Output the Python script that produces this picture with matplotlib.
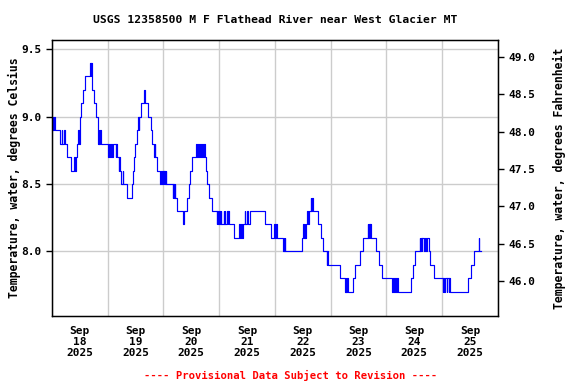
import matplotlib
matplotlib.use("Agg")
import matplotlib.pyplot as plt
import matplotlib.dates as mdates
import pandas as pd

# readings: (hour of day, deg C), value holds until next reading
sep18 = [(0.0, 9.0), (0.25, 8.9), (0.5, 9.0), (0.75, 8.9), (1.0, 9.0), (1.25, 8.9),
         (3.75, 8.8), (4.25, 8.9), (4.5, 8.8), (5.25, 8.9), (5.5, 8.8),
         (6.5, 8.7), (8.25, 8.6), (9.75, 8.7), (10.0, 8.6), (10.5, 8.7), (11.0, 8.8),
         (11.5, 8.9), (11.75, 8.8), (12.0, 8.9), (12.25, 9.0), (12.75, 9.1), (13.5, 9.2),
         (14.25, 9.3), (16.5, 9.4), (16.75, 9.3), (17.0, 9.4), (17.5, 9.2), (18.25, 9.1),
         (19.0, 9.0), (19.75, 8.9), (20.0, 8.8), (20.25, 8.9), (20.5, 8.8), (20.75, 8.9),
         (21.0, 8.8)]
sep19 = [(0.25, 8.7), (0.5, 8.8), (1.25, 8.7), (1.5, 8.8), (2.0, 8.7), (2.25, 8.8),
         (3.5, 8.7), (3.75, 8.8), (4.0, 8.7), (4.75, 8.6), (5.0, 8.7), (5.25, 8.6),
         (6.0, 8.5), (6.5, 8.6), (6.75, 8.5), (8.5, 8.4), (10.5, 8.5), (11.0, 8.6),
         (11.5, 8.7), (12.0, 8.8), (12.5, 8.9), (13.25, 9.0), (13.5, 8.9), (13.75, 9.0),
         (14.5, 9.1), (15.5, 9.2), (16.25, 9.1), (17.5, 9.0), (18.5, 8.9), (19.25, 8.8),
         (20.0, 8.7), (20.25, 8.8), (20.5, 8.7), (21.25, 8.6), (22.5, 8.5), (23.0, 8.6),
         (23.25, 8.5)]
sep20 = [(0.0, 8.6), (0.25, 8.5), (0.5, 8.6), (0.75, 8.5), (1.0, 8.6), (1.25, 8.5),
         (4.0, 8.4), (4.25, 8.5), (4.5, 8.4), (5.0, 8.5), (5.25, 8.4), (6.0, 8.3),
         (8.5, 8.2), (8.75, 8.3), (10.25, 8.4), (11.0, 8.5), (11.5, 8.6), (12.5, 8.7),
         (14.25, 8.8), (14.5, 8.7), (14.75, 8.8), (15.5, 8.7), (15.75, 8.8), (16.25, 8.7),
         (16.5, 8.8), (17.25, 8.7), (17.5, 8.8), (18.0, 8.7), (18.5, 8.6), (19.0, 8.5),
         (19.75, 8.4), (20.75, 8.3), (23.0, 8.2), (23.25, 8.3), (23.5, 8.2), (23.75, 8.3)]
sep21 = [(0.5, 8.2), (0.75, 8.3), (1.0, 8.2), (2.0, 8.3), (2.25, 8.2), (2.5, 8.3),
         (2.75, 8.2), (3.5, 8.3), (3.75, 8.2), (4.0, 8.3), (4.25, 8.2), (6.5, 8.1),
         (8.75, 8.2), (9.0, 8.1), (9.5, 8.2), (9.75, 8.1), (10.25, 8.2), (11.0, 8.3),
         (11.25, 8.2), (12.0, 8.3), (12.25, 8.2), (13.5, 8.3), (19.75, 8.2), (22.5, 8.1),
         (23.75, 8.2), (24.0, 8.1)]
sep22 = [(0.5, 8.2), (0.75, 8.1), (3.5, 8.0), (3.75, 8.1), (4.0, 8.0), (4.25, 8.1),
         (4.5, 8.0), (11.5, 8.1), (12.25, 8.2), (12.5, 8.1), (12.75, 8.2), (13.0, 8.1),
         (13.25, 8.2), (14.0, 8.3), (14.25, 8.2), (14.5, 8.3), (15.5, 8.4), (15.75, 8.3),
         (16.0, 8.4), (16.25, 8.3), (18.75, 8.2), (19.75, 8.1), (20.75, 8.0), (22.25, 7.9),
         (22.5, 8.0), (22.75, 7.9)]
sep23 = [(4.0, 7.8), (6.25, 7.7), (6.5, 7.8), (6.75, 7.7), (7.0, 7.8), (7.25, 7.7),
         (9.5, 7.8), (10.5, 7.9), (12.5, 8.0), (13.75, 8.1), (16.0, 8.2), (16.25, 8.1),
         (16.5, 8.2), (16.75, 8.1), (17.0, 8.2), (17.25, 8.1), (19.5, 8.0), (21.0, 7.9),
         (22.25, 7.8)]
sep24 = [(2.5, 7.7), (2.75, 7.8), (3.25, 7.7), (3.5, 7.8), (4.25, 7.7), (4.5, 7.8),
         (5.0, 7.7), (10.5, 7.8), (11.5, 7.9), (12.5, 8.0), (14.25, 8.1), (14.5, 8.0),
         (14.75, 8.1), (15.25, 8.0), (15.5, 8.1), (16.25, 8.0), (16.5, 8.1), (17.0, 8.0),
         (17.25, 8.1), (18.25, 8.0), (18.75, 7.9), (20.5, 7.8)]
sep25 = [(0.25, 7.7), (0.5, 7.8), (0.75, 7.7), (1.25, 7.8), (2.0, 7.7), (2.25, 7.8),
         (2.75, 7.7), (3.0, 7.8), (3.5, 7.7), (11.0, 7.8), (12.25, 7.9), (13.75, 8.0),
         (15.75, 8.1), (16.0, 8.0), (16.5, 8.0)]

days = [sep18, sep19, sep20, sep21, sep22, sep23, sep24, sep25]
start = pd.Timestamp("2025-09-18")

c_ticks = [8.0, 8.5, 9.0, 9.5]
f_ticks = [46.0, 46.5, 47.0, 47.5, 48.0, 48.5, 49.0]
c_lim = (7.52, 9.57)

times, temps = [], []
for i, day in enumerate(days):
    for h, v in day:
        times.append(start + pd.Timedelta(days=i, hours=h))
        temps.append(v)

font = "DejaVu Sans Mono"
fig = plt.figure(figsize=(5.76, 3.84), dpi=100)
ax = fig.add_axes([0.0898, 0.1771, 0.7748, 0.7187])

ax.plot(times, temps, color="#0000ff", lw=0.85, drawstyle="steps-post")

ax.set_xlim(start, start + pd.Timedelta(days=8))
ax.set_ylim(*c_lim)
ax.set_yticks(c_ticks)
ax.set_yticklabels([f"{t:.1f}" for t in c_ticks], fontfamily=font, fontweight="bold", fontsize=8)

ax.xaxis.set_major_locator(mdates.DayLocator())
ax.xaxis.set_major_formatter(plt.NullFormatter())
ax.xaxis.set_minor_locator(mdates.HourLocator(byhour=[12]))
ax.xaxis.set_minor_formatter(mdates.DateFormatter("%b\n%d\n%Y"))
ax.tick_params(axis="x", which="both", length=0)
ax.tick_params(axis="x", which="minor", pad=7)
for lbl in ax.get_xticklabels(minor=True):
    lbl.set_fontfamily(font)
    lbl.set_fontweight("bold")
    lbl.set_fontsize(8)
    lbl.set_linespacing(1.15)
ax.tick_params(axis="y", length=4, width=1, direction="out")

ax.grid(True, which="major", color="#cccccc", lw=1)
ax.set_axisbelow(True)
for s in ax.spines.values():
    s.set_linewidth(1)

ax2 = ax.twinx()
ax2.set_ylim(c_lim[0] * 1.8 + 32, c_lim[1] * 1.8 + 32)
ax2.set_yticks(f_ticks)
ax2.set_yticklabels([f"{t:.1f}" for t in f_ticks], fontfamily=font, fontweight="bold", fontsize=8)
ax2.tick_params(axis="y", length=4, width=1, direction="out")

fig.text(0.4774, 0.948, "USGS 12358500 M F Flathead River near West Glacier MT",
         ha="center", va="center", fontfamily=font, fontweight="bold", fontsize=8.2)
fig.text(0.025, 0.5365, "Temperature, water, degrees Celsius", rotation=90,
         ha="center", va="center", fontfamily=font, fontweight="bold", fontsize=8.3)
fig.text(0.972, 0.5365, "Temperature, water, degrees Fahrenheit", rotation=90,
         ha="center", va="center", fontfamily=font, fontweight="bold", fontsize=8.3)
fig.text(0.505, 0.023, "---- Provisional Data Subject to Revision ----",
         ha="center", va="center", color="red", fontfamily=font, fontweight="bold", fontsize=7.6)

fig.savefig("out.png", dpi=100)
